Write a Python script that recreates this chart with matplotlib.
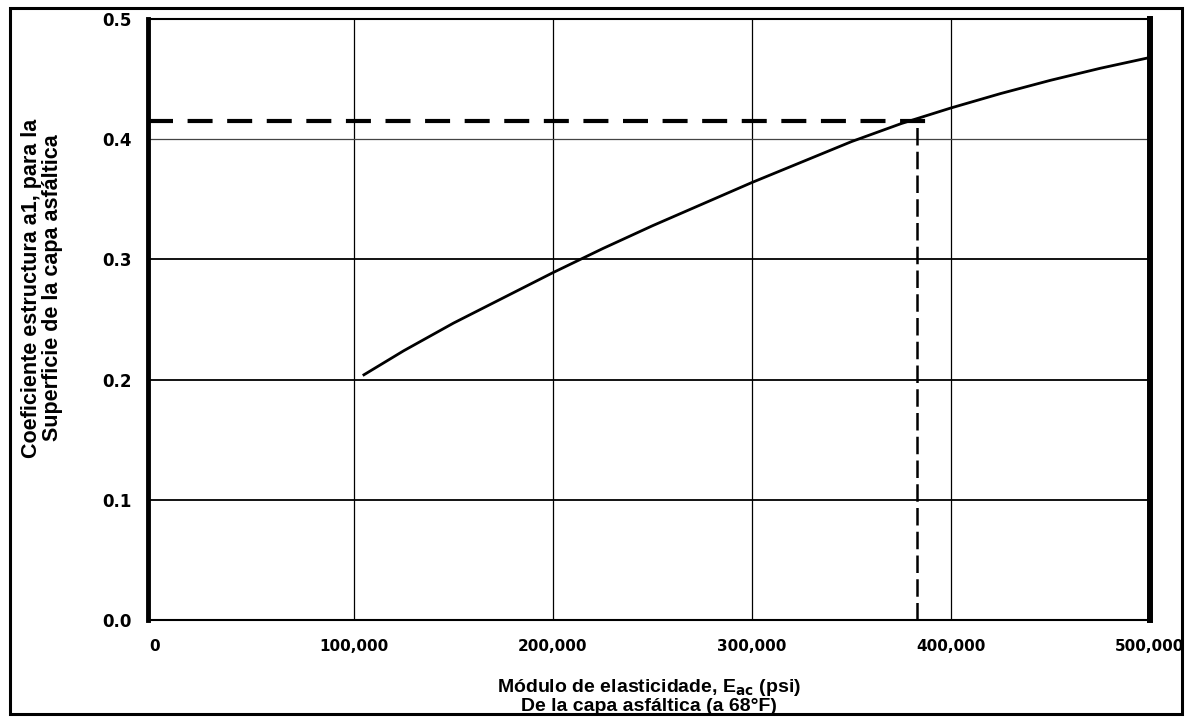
import matplotlib
matplotlib.use("Agg")
import matplotlib.pyplot as plt
from matplotlib.patches import Rectangle

# ---- data ----
modulus_psi = [105000, 125000, 150000, 175000, 200000, 225000, 250000, 275000,
               300000, 325000, 350000, 375000, 400000, 425000, 450000, 475000, 500000]
coef_a1 = [0.204, 0.224, 0.247, 0.268, 0.289, 0.309, 0.328, 0.346,
           0.364, 0.381, 0.398, 0.413, 0.426, 0.438, 0.449, 0.459, 0.468]

example_modulus = 383000
example_a1 = 0.415

x_ticks = [0, 100000, 200000, 300000, 400000, 500000]
x_ticklabels = ["0", "100,000", "200,000", "300,000", "400,000", "500,000"]
y_ticks = [0.0, 0.1, 0.2, 0.3, 0.4, 0.5]
y_ticklabels = ["0.0", "0.1", "0.2", "0.3", "0.4", "0.5"]

W, H = 1186, 718
fig = plt.figure(figsize=(W / 100, H / 100), dpi=100)
fig.patch.set_facecolor("white")

L, R, T, B = 148, 1150, 19, 620
ax = fig.add_axes([L / W, 1 - B / H, (R - L) / W, (B - T) / H])
ax.set_xlim(-3500, 500000)
ax.set_ylim(0, 0.5)

# grid
for xv in x_ticks[1:-1]:
    ax.axvline(xv, color="black", lw=0.9, zorder=1)
for yv in y_ticks[1:-1]:
    ax.axhline(yv, color="black" if yv < 0.35 else "#444444",
               lw=1.3 if yv < 0.35 else 0.9, zorder=1)

# curve
ax.plot(modulus_psi, coef_a1, color="black", lw=2.0, zorder=3)

# example dashed lines
ax.plot([-3500, example_modulus + 5000], [example_a1, example_a1], color="black",
        lw=3.0, dashes=(6, 3.5), zorder=4)
ax.plot([example_modulus, example_modulus], [0, example_a1], color="black",
        lw=1.8, dashes=(7, 2.5), zorder=4)

# spines
ax.spines["left"].set_linewidth(3.5)
ax.spines["right"].set_linewidth(4.3)
ax.spines["top"].set_linewidth(1.5)
ax.spines["bottom"].set_linewidth(1.5)
for s in ax.spines.values():
    s.set_color("black")

ax.set_xticks(x_ticks)
ax.set_xticklabels(x_ticklabels)
ax.set_yticks(y_ticks)
ax.set_yticklabels(y_ticklabels)
ax.tick_params(axis="both", length=0)
ax.tick_params(axis="x", pad=14, labelsize=11)
ax.tick_params(axis="y", pad=12, labelsize=12)
for lab in ax.get_xticklabels() + ax.get_yticklabels():
    lab.set_fontweight("bold")
    lab.set_family(["DejaVu Sans"])

narrow = ["Liberation Sans Narrow", "Liberation Sans", "DejaVu Sans"]

fig.text(42 / W, 1 - 288 / H,
         "Coeficiente estructura a1, para la\nSuperficie de la capa asfáltica",
         rotation=90, ha="center", va="center", fontsize=15.5, fontweight="bold",
         family=narrow, linespacing=0.95)

fig.text(649 / W, 1 - 696 / H,
         "Módulo de elasticidade, E$_{\\mathbf{ac}}$ (psi)\nDe la capa asfáltica (a 68°F)",
         ha="center", va="center", fontsize=14, fontweight="bold", family=narrow,
         linespacing=0.95, multialignment="center")

# outer frame
fig.patches.append(Rectangle((10 / W, 1 - 714 / H), (1182 - 10) / W, (714 - 8) / H,
                             transform=fig.transFigure, fill=False,
                             edgecolor="black", lw=2.2, zorder=10))

fig.savefig("out.png", dpi=100, facecolor="white")
